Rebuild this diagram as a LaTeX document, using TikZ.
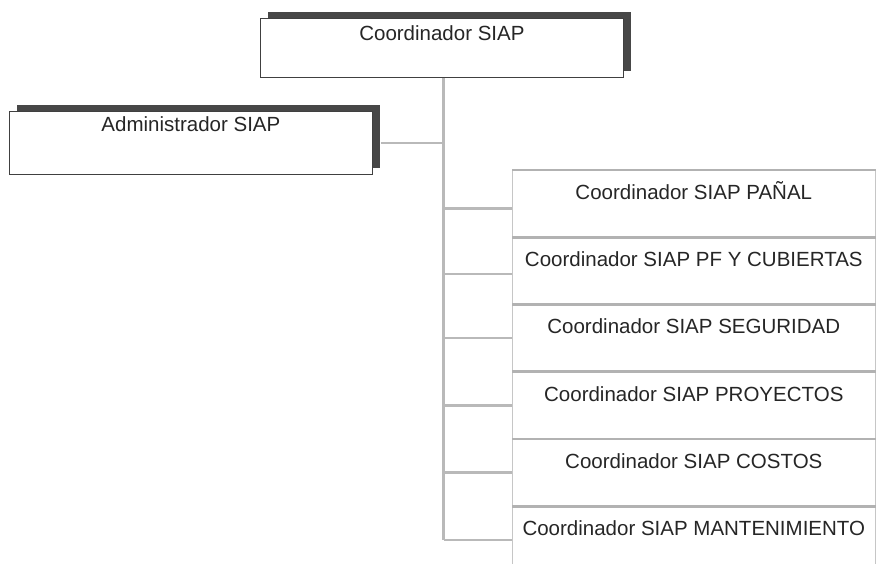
\documentclass[tikz,border=0pt]{standalone}
\usepackage{fontspec}
\setmainfont{Liberation Sans}
\usepackage{xcolor}
\usepackage{tikz}
\usetikzlibrary{shadows,positioning}

\begin{document}
\begin{tikzpicture}[
    x=0.03cm, y=-0.03cm,
    node distance=0pt,
    mainbox/.style={rectangle, draw=black!75, line width=0.7pt, fill=white, inner sep=0pt,
        minimum width=10.89cm, anchor=north west,
        font=\fontsize{17.5}{20}\selectfont, text=black!85,
        general shadow={shadow xshift=0.24cm, shadow yshift=0.2cm, fill=black!72}},
    coordbox/.style={rectangle, draw=gray!45, line width=0.5pt, fill=white, inner sep=0pt,
        minimum width=10.89cm, text height=0.87cm, text depth=1.13cm,
        font=\fontsize{17.5}{20}\selectfont, text=black!85},
    topline/.style={gray!60, line width=2.2pt},
    link/.style={gray!55, line width=2pt}
]

% Frame
\useasboundingbox[fill=white] (0,0) rectangle (877,563);

% Head
\node[mainbox, text height=0.66cm, text depth=1.11cm] (coord) at (260,18) {Coordinador SIAP};

% Administrator
\node[mainbox, text height=0.6cm, text depth=1.29cm] (admin) at (9,111) {Administrador SIAP};

% Area coordinators
\node[coordbox, anchor=north west] (panal) at (512,170) {Coordinador SIAP PAÑAL};
\node[coordbox, below=of panal] (pf) {Coordinador SIAP PF Y CUBIERTAS};
\node[coordbox, below=of pf] (seguridad) {Coordinador SIAP SEGURIDAD};
\node[coordbox, below=of seguridad] (proyectos) {Coordinador SIAP PROYECTOS};
\node[coordbox, below=of proyectos] (costos) {Coordinador SIAP COSTOS};
\node[coordbox, below=of costos] (mant) {Coordinador SIAP MANTENIMIENTO};

% Top edges
\draw[topline] (panal.north west) -- (panal.north east);
\draw[topline] (pf.north west) -- (pf.north east);
\draw[topline] (seguridad.north west) -- (seguridad.north east);
\draw[topline] (proyectos.north west) -- (proyectos.north east);
\draw[topline] (costos.north west) -- (costos.north east);
\draw[topline] (mant.north west) -- (mant.north east);

% Trunk
\coordinate (trunkend) at ([xshift=0.05cm]coord.south |- mant.west);
\draw[link] ([xshift=0.05cm]coord.south) -- (trunkend);

% Links
\draw[link] ([xshift=0.24cm]admin.east) -- ([xshift=0.05cm]coord.south |- admin.east);
\draw[link] ([xshift=0.05cm, yshift=-0.15cm]coord.south |- panal.west) -- ([yshift=-0.15cm]panal.west);
\draw[link] ([xshift=0.05cm, yshift=-0.1cm]coord.south |- pf.west) -- ([yshift=-0.1cm]pf.west);
\draw[link] ([xshift=0.05cm]coord.south |- seguridad.west) -- (seguridad.west);
\draw[link] ([xshift=0.05cm]coord.south |- proyectos.west) -- (proyectos.west);
\draw[link] ([xshift=0.05cm]coord.south |- costos.west) -- (costos.west);
\draw[link] (trunkend) -- (mant.west);

\end{tikzpicture}
\end{document}
